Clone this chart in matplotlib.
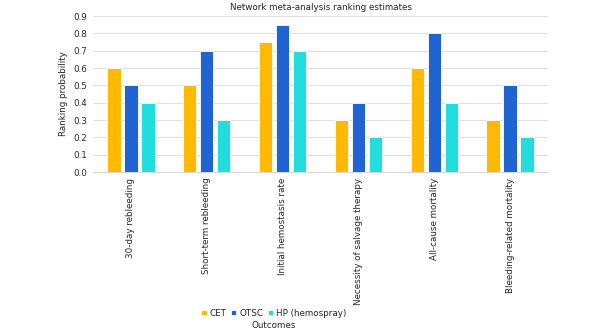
import matplotlib
matplotlib.use("Agg")
import matplotlib.pyplot as plt
import numpy as np

categories = ["30-day rebleeding", "Short-term rebleeding", "Initial hemostasis rate",
              "Necessity of salvage therapy", "All-cause mortality", "Bleeding-related mortality"]
cet = [0.6, 0.5, 0.75, 0.3, 0.6, 0.3]
otsc = [0.5, 0.7, 0.85, 0.4, 0.8, 0.5]
hp = [0.4, 0.3, 0.7, 0.2, 0.4, 0.2]
series_names = ["CET", "OTSC", "HP (hemospray)"]
colors = ["#FFB900", "#1F64D2", "#22DDDD"]
yticks = [0.0, 0.1, 0.2, 0.3, 0.4, 0.5, 0.6, 0.7, 0.8, 0.9]

FS = 6.3
TC = "#262626"
plt.rcParams['font.family'] = ['DejaVu Sans']
fig = plt.figure(figsize=(6.1, 3.35), dpi=100)
ax = fig.add_axes([93/610, 1-172/335, (548-93)/610, (172-16)/335])

x = np.arange(len(categories))
w = 0.177
step = 0.224
for i, (vals, name, c) in enumerate(zip([cet, otsc, hp], series_names, colors)):
    ax.bar(x + (i-1)*step, vals, width=w, color=c, edgecolor="white", linewidth=0.6, label=name, zorder=3)

ax.set_xlim(-0.5, len(categories)-0.5)
ax.set_ylim(0, 0.9)
ax.set_yticks(yticks)
ax.set_yticklabels([f"{v:.1f}" for v in yticks], fontsize=FS, color=TC)
ax.set_xticks(x)
ax.set_xticklabels(categories, rotation=90, fontsize=FS, color=TC)
ax.tick_params(length=0, pad=4)
ax.grid(axis='y', color="#E0E0E0", linewidth=0.8, zorder=0)
for s in ["top", "right", "left"]:
    ax.spines[s].set_visible(False)
ax.spines["bottom"].set_color("#D9D9D9")
ax.set_ylabel("Ranking probability", fontsize=FS, color=TC, labelpad=4)
ax.set_title("Network meta-analysis ranking estimates", fontsize=FS, color=TC, pad=4)

handles, labels = ax.get_legend_handles_labels()
fig.legend(handles, labels, loc="center", bbox_to_anchor=(274/610, 1-313/335), ncol=3,
           frameon=False, fontsize=FS, handlelength=0.6, handleheight=0.6, handletextpad=0.35,
           columnspacing=0.5, labelcolor=TC)
fig.text(274/610, 1-326/335, "Outcomes", ha="center", va="center", fontsize=FS, color=TC)

fig.savefig("out.png", dpi=100)
